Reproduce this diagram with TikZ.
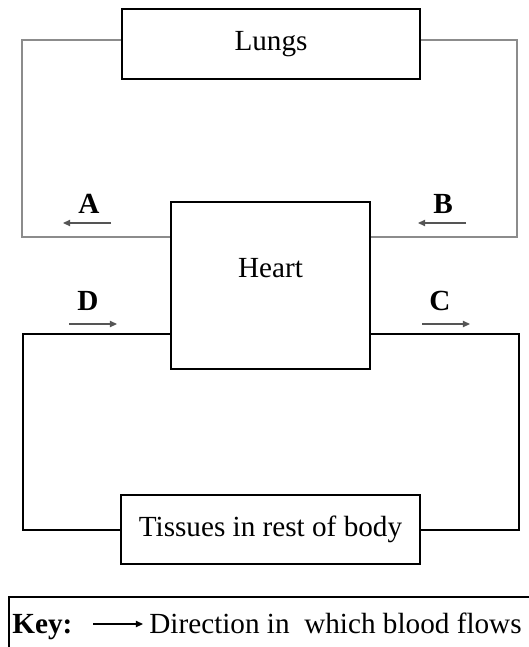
\documentclass[tikz,border=0pt]{standalone}
\usepackage{fontspec}
\setmainfont{Liberation Serif}
\usepackage{xcolor}
\usetikzlibrary{positioning,arrows.meta,calc}
\definecolor{loopgrey}{HTML}{8C8C8C}
\definecolor{shaftgrey}{HTML}{555555}
\tikzset{
  organ/.style  = {draw, line width=1.3pt, inner sep=0pt,
                   font=\fontsize{14.6}{17}\selectfont},
  lungloop/.style = {draw=loopgrey, line width=0.75pt},
  bodyloop/.style = {draw=black, line width=1pt},
  flow/.style   = {-{Triangle[length=3.6pt,width=3.2pt]}, line width=0.55pt,
                   draw=shaftgrey},
  letter/.style = {font=\fontsize{14.6}{17}\selectfont\bfseries, inner sep=0pt},
  keytext/.style = {font=\fontsize{14.6}{17}\selectfont, inner sep=0pt, anchor=base west},
}
\begin{document}
\begin{tikzpicture}[x=0.5pt, y=-0.5pt]
  \useasboundingbox (0,0) rectangle (529,647);

  % --- the three boxes ---
  \node[organ, minimum width=149pt, minimum height=35pt] (lungs) at (271,44) {Lungs};
  \node[organ, minimum width=99.5pt, minimum height=83.5pt] (heart) at (270.5,285.5) {};
  \node[keytext, anchor=center] (heartlab) at (270.5,268) {Heart};
  \node[organ, line width=1pt, minimum width=149.5pt, minimum height=34.5pt] (tissues)
    at (270.5,529.5) {Tissues in rest of body};

  % --- circulation to the lungs ---
  \coordinate (ltl) at (22,40);
  \coordinate (lbl) at (22,237);
  \coordinate (ltr) at (517,40);
  \coordinate (lbr) at (517,237);
  \draw[lungloop] (lungs.west |- ltl) -- (ltl) -- (lbl) -- (heart.west |- lbl);
  \draw[lungloop] (heart.east |- lbr) -- (lbr) -- (ltr) -- (lungs.east |- ltr);

  % --- circulation to the body ---
  \coordinate (btl) at (23,334);
  \coordinate (bbl) at (23,530);
  \coordinate (btr) at (519,334);
  \coordinate (bbr) at (519,530);
  \draw[bodyloop] (heart.west |- btl) -- (btl) -- (bbl) -- (tissues.west |- bbl);
  \draw[bodyloop] (heart.east |- btr) -- (btr) -- (bbr) -- (tissues.east |- bbr);

  % --- flow arrows and letters ---
  \coordinate (a1) at (111,223); \coordinate (a2) at (63,223);
  \coordinate (b1) at (466,223); \coordinate (b2) at (418,223);
  \coordinate (d1) at (69,324);  \coordinate (d2) at (117,324);
  \coordinate (c1) at (422,324); \coordinate (c2) at (470,324);
  \draw[flow] (a1) -- (a2);
  \draw[flow] (b1) -- (b2);
  \draw[flow] (d1) -- (d2);
  \draw[flow] (c1) -- (c2);
  \node[letter] (la) at (89,204) {A};
  \node[letter] (lb) at (443,204) {B};
  \node[letter] (ld) at (88,301) {D};
  \node[letter] (lc) at (440,301) {C};

  % --- key ---
  \draw[line width=0.8pt] (9,650) -- (9,597) -- (532,597);
  \node[keytext] (keyname) at (12,633) {\textbf{Key:}};
  \coordinate (k1) at (93,624); \coordinate (k2) at (143,624);
  \draw[flow, draw=black] (k1) -- (k2);
  \node[keytext] (keydesc) at (149,633) {Direction in\ \ which blood flows};
\end{tikzpicture}
\end{document}
